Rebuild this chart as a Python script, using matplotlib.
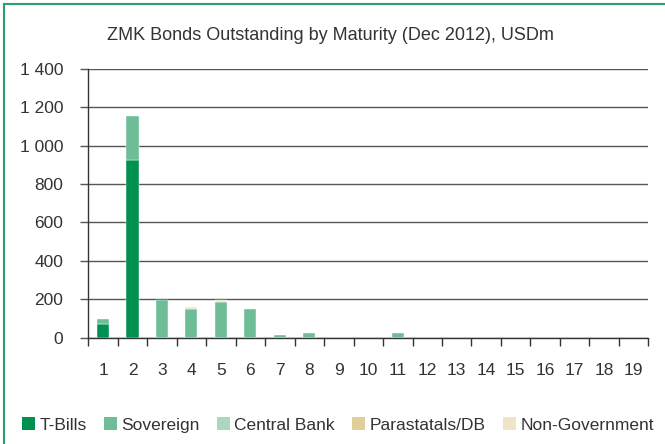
import matplotlib
matplotlib.use("Agg")
import matplotlib.pyplot as plt
from matplotlib.lines import Line2D
from matplotlib.patches import Patch
import numpy as np

plt.rcParams['font.family'] = ['Liberation Sans', 'DejaVu Sans']

maturities = [str(i) for i in range(1, 20)]
series_names = ["T-Bills", "Sovereign", "Central Bank", "Parastatals/DB", "Non-Government"]
t_bills        = [72, 927, 0, 0, 0, 0, 0, 0, 0, 0, 0, 0, 0, 0, 0, 0, 0, 0, 0]
sovereign      = [25, 226, 196, 149, 185, 149, 13, 22, 0, 0, 22, 0, 0, 0, 0, 0, 0, 0, 0]
central_bank   = [0] * 19
parastatals    = [0] * 19
non_government = [0, 0, 0, 9, 9, 0, 0, 0, 0, 0, 0, 0, 0, 0, 0, 0, 0, 0, 0]
y_ticks = [0, 200, 400, 600, 800, 1000, 1200, 1400]
y_tick_labels = ["0", "200", "400", "600", "800", "1 000", "1 200", "1 400"]

colors = ["#009150", "#6dbd96", "#a9d8be", "#e0cf98", "#eee4c6"]
text_color = "#333333"

fig = plt.figure(figsize=(6.65, 4.44), dpi=100)
ax = fig.add_axes([88.3 / 665, 106.5 / 444, 560 / 665, 268.5 / 444])

x = np.arange(1, 20)
bottom = np.zeros(19)
for vals, col in zip([t_bills, sovereign, central_bank, parastatals, non_government], colors):
    v = np.array(vals, dtype=float)
    nz = v > 0
    if nz.any():
        ax.bar(x[nz], v[nz], width=0.41, bottom=bottom[nz], color=col,
               edgecolor="white", linewidth=0.3, zorder=3)
    bottom += v

ax.set_xlim(0.5, 19.5)
ax.set_ylim(0, 1400)
ax.set_yticks(y_ticks)
ax.set_yticklabels(y_tick_labels)
ax.set_xticks(x)
ax.set_xticklabels(maturities)
ax.set_xticks(np.arange(0.5, 20.0, 1.0), minor=True)
ax.tick_params(axis="x", which="major", length=0, pad=18, labelsize=12.5, labelcolor=text_color)
ax.tick_params(axis="x", which="minor", length=6, width=1, color="#333333", direction="out")
ax.tick_params(axis="y", length=6, width=1, color="#555555", pad=12, labelsize=12.5, labelcolor=text_color)

ax.grid(axis="y", color="#555555", linewidth=1, zorder=0)
for s in ["top", "right"]:
    ax.spines[s].set_visible(False)
ax.spines["left"].set_color("#333333")
ax.spines["bottom"].set_color("#333333")
ax.spines["left"].set_linewidth(1)
ax.spines["bottom"].set_linewidth(1)

fig.text(330 / 665, 1 - 35 / 444, "ZMK Bonds Outstanding by Maturity (Dec 2012), USDm",
         ha="center", va="center", fontsize=13, color=text_color)

handles = [Patch(facecolor=c, edgecolor="none") for c in colors]
fig.legend(handles, series_names, loc="center", bbox_to_anchor=(338 / 665, 1 - 425 / 444),
           ncol=5, frameon=False, fontsize=12.5, handlelength=0.75, handleheight=0.75,
           handletextpad=0.25, columnspacing=1.0, labelcolor=text_color, borderaxespad=0)

frame_color = "#2e9e6a"
fig.add_artist(Line2D([3.5 / 665, 3.5 / 665], [0, 1 - 4 / 444], color=frame_color, linewidth=1.5))
fig.add_artist(Line2D([3.5 / 665, 1], [1 - 4 / 444, 1 - 4 / 444], color=frame_color, linewidth=1.5))

fig.savefig("out.png", dpi=100)
